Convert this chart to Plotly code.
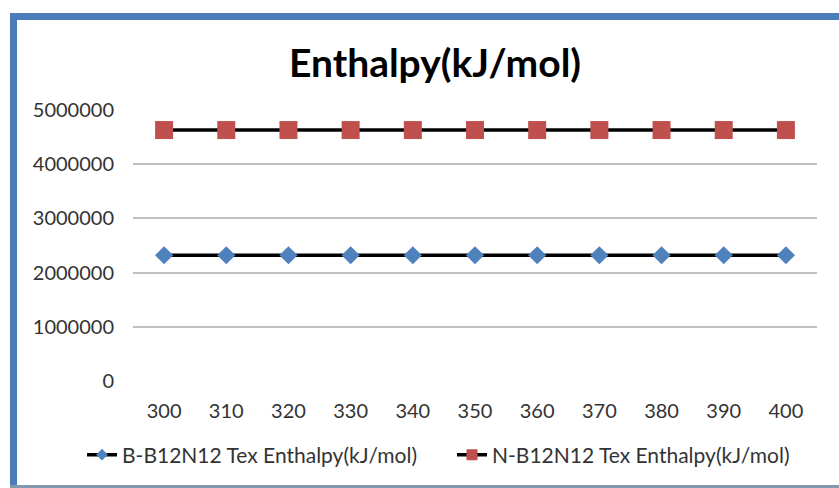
import plotly.graph_objects as go

temps = ["300", "310", "320", "330", "340", "350", "360", "370", "380", "390", "400"]
b_enthalpy = [2320000] * 11
n_enthalpy = [4630000] * 11
y_ticks = [0, 1000000, 2000000, 3000000, 4000000, 5000000]

name_b = "B-B12N12 Tex Enthalpy(kJ/mol)"
name_n = "N-B12N12 Tex Enthalpy(kJ/mol)"
blue = "#4F81BD"
red = "#C0504D"
FONT = "Lato"

W, H = 839, 488
L, R, T, B = 133, 22, 110, 107

fig = go.Figure()
fig.add_trace(go.Scatter(x=temps, y=b_enthalpy, mode="lines+markers", showlegend=False,
                         line=dict(color="black", width=3.5),
                         marker=dict(symbol="diamond", size=14, color=blue)))
fig.add_trace(go.Scatter(x=temps, y=n_enthalpy, mode="lines+markers", showlegend=False,
                         line=dict(color="black", width=3.5),
                         marker=dict(symbol="square", size=18, color=red)))
# legend-only entries with small markers
fig.add_trace(go.Scatter(x=[None], y=[None], mode="lines+markers", name=name_b,
                         line=dict(color="black", width=3.5),
                         marker=dict(symbol="diamond", size=9, color=blue)))
fig.add_trace(go.Scatter(x=[None], y=[None], mode="lines+markers", name=name_n,
                         line=dict(color="black", width=3.5),
                         marker=dict(symbol="square", size=11, color=red)))

pw = W - L - R
ph = H - T - B
def px(xp):
    return (xp - L) / pw
def py(yp):
    return (H - B - yp) / ph

frame = "#4A7EBB"
fig.add_shape(type="line", xref="paper", yref="paper", x0=px(13.5), x1=px(13.5), y0=py(13), y1=py(488),
              line=dict(color=frame, width=7))
fig.add_shape(type="line", xref="paper", yref="paper", x0=px(10), x1=px(845), y0=py(16.5), y1=py(16.5),
              line=dict(color=frame, width=7))
fig.add_shape(type="line", xref="paper", yref="paper", x0=px(10), x1=px(845), y0=py(486.5), y1=py(486.5),
              line=dict(color="#8497B0", width=3))

fig.update_layout(
    width=W, height=H,
    margin=dict(l=L, r=R, t=T, b=B, autoexpand=False),
    paper_bgcolor="white", plot_bgcolor="white",
    font=dict(family=FONT, size=20, color="#333333"),
    title=dict(text="<b>Enthalpy(kJ/mol)</b>", x=435 / W, xanchor="center",
               y=1 - 63 / H, yanchor="middle",
               font=dict(family=FONT, size=39, color="black")),
    xaxis=dict(type="category", range=[-0.5, 10.5], showgrid=False, showline=False,
               zeroline=False, ticks="", ticklabelstandoff=16,
               tickfont=dict(family=FONT, size=20, color="#333333")),
    yaxis=dict(range=[0, 5000000], tickvals=y_ticks, tickformat="d",
               showgrid=True, gridcolor="#C0C0C0", gridwidth=2, zeroline=False,
               showline=False, ticks="", ticklabelstandoff=18,
               tickfont=dict(family=FONT, size=20, color="#333333")),
    legend=dict(orientation="h", x=px(82), xanchor="left", y=py(455), yanchor="middle",
                entrywidth=325, entrywidthmode="pixels",
                font=dict(family=FONT, size=21, color="#333333"),
                bgcolor="rgba(0,0,0,0)"),
)

fig.write_html("out.html", config={"displayModeBar": False},
               post_script="document.body.style.margin='0px';")
